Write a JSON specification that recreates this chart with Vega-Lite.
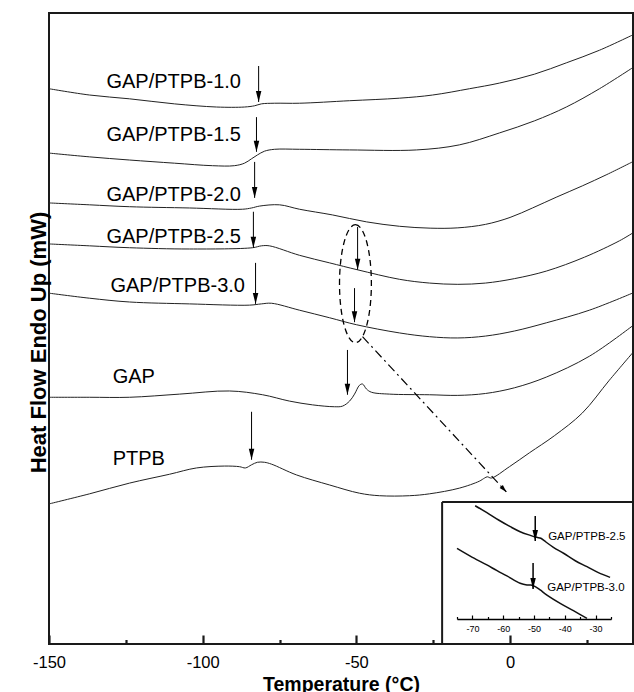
{
  "$schema": "https://vega.github.io/schema/vega-lite/v6.json",
  "width": 584,
  "height": 631,
  "autosize": {"type": "none"},
  "padding": {"left": 49, "top": 13, "right": 1, "bottom": 48},
  "background": "white",
  "config": {
    "font": "Liberation Sans",
    "view": {"stroke": "#1a1a1a", "strokeWidth": 2}
  },
  "datasets": {
    "curves": [
      {"s":"c10","T":-150,"y":88.0},{"s":"c10","T":-136.8,"y":87.0},{"s":"c10","T":-123.8,"y":86.4},{"s":"c10","T":-109.2,"y":85.6},{"s":"c10","T":-95.5,"y":85.1},{"s":"c10","T":-86.4,"y":85.1},{"s":"c10","T":-83.1,"y":85.3},{"s":"c10","T":-80.9,"y":85.6},{"s":"c10","T":-76.6,"y":85.7},{"s":"c10","T":-68.5,"y":85.7},{"s":"c10","T":-52.2,"y":86.1},{"s":"c10","T":-36.0,"y":86.5},{"s":"c10","T":-25.2,"y":87.0},{"s":"c10","T":-13.2,"y":88.0},{"s":"c10","T":-3.4,"y":88.9},{"s":"c10","T":7.9,"y":90.3},{"s":"c10","T":18.3,"y":92.1},{"s":"c10","T":29.1,"y":94.1},{"s":"c10","T":39.8,"y":96.5},
      {"s":"c15","T":-150,"y":77.8},{"s":"c15","T":-136.8,"y":77.2},{"s":"c15","T":-123.8,"y":76.7},{"s":"c15","T":-109.2,"y":76.2},{"s":"c15","T":-96.8,"y":75.8},{"s":"c15","T":-89.7,"y":75.8},{"s":"c15","T":-86.4,"y":76.2},{"s":"c15","T":-84.1,"y":76.9},{"s":"c15","T":-82.2,"y":77.5},{"s":"c15","T":-79.9,"y":78.1},{"s":"c15","T":-76.6,"y":78.4},{"s":"c15","T":-68.5,"y":78.4},{"s":"c15","T":-52.2,"y":78.3},{"s":"c15","T":-30.4,"y":78.3},{"s":"c15","T":-16.5,"y":79.1},{"s":"c15","T":-3.4,"y":81.0},{"s":"c15","T":7.9,"y":82.9},{"s":"c15","T":18.3,"y":85.1},{"s":"c15","T":29.1,"y":88.0},{"s":"c15","T":39.8,"y":91.3},
      {"s":"c20","T":-150,"y":69.9},{"s":"c20","T":-136.8,"y":69.6},{"s":"c20","T":-123.8,"y":69.3},{"s":"c20","T":-104.3,"y":69.1},{"s":"c20","T":-87.1,"y":68.9},{"s":"c20","T":-84.1,"y":69.1},{"s":"c20","T":-81.5,"y":69.4},{"s":"c20","T":-75.0,"y":69.6},{"s":"c20","T":-68.5,"y":68.9},{"s":"c20","T":-57.8,"y":68.0},{"s":"c20","T":-46.7,"y":66.9},{"s":"c20","T":-36.0,"y":66.2},{"s":"c20","T":-26.0,"y":65.9},{"s":"c20","T":-17.0,"y":65.95},{"s":"c20","T":-8.0,"y":66.5},{"s":"c20","T":0.0,"y":67.6},{"s":"c20","T":7.3,"y":69.1},{"s":"c20","T":15.0,"y":70.8},{"s":"c20","T":23.5,"y":72.6},{"s":"c20","T":31.5,"y":74.4},{"s":"c20","T":39.8,"y":76.4},
      {"s":"c25","T":-150,"y":63.4},{"s":"c25","T":-136.8,"y":63.1},{"s":"c25","T":-123.8,"y":62.8},{"s":"c25","T":-104.3,"y":62.6},{"s":"c25","T":-83.8,"y":62.8},{"s":"c25","T":-80.9,"y":63.1},{"s":"c25","T":-78.3,"y":63.1},{"s":"c25","T":-68.5,"y":61.6},{"s":"c25","T":-58.7,"y":60.4},{"s":"c25","T":-49.6,"y":59.3},{"s":"c25","T":-36.0,"y":57.8},{"s":"c25","T":-26.2,"y":57.2},{"s":"c25","T":-17.0,"y":57.0},{"s":"c25","T":-8.0,"y":57.2},{"s":"c25","T":1.4,"y":57.9},{"s":"c25","T":11.8,"y":59.1},{"s":"c25","T":24.2,"y":61.3},{"s":"c25","T":35.6,"y":63.9},{"s":"c25","T":39.8,"y":65.1},
      {"s":"c30","T":-150,"y":55.6},{"s":"c30","T":-136.8,"y":54.8},{"s":"c30","T":-123.8,"y":54.2},{"s":"c30","T":-104.3,"y":53.9},{"s":"c30","T":-84.8,"y":53.7},{"s":"c30","T":-80.9,"y":53.9},{"s":"c30","T":-77.6,"y":54.0},{"s":"c30","T":-68.5,"y":52.9},{"s":"c30","T":-58.7,"y":51.7},{"s":"c30","T":-50.0,"y":50.6},{"s":"c30","T":-36.0,"y":49.3},{"s":"c30","T":-26.2,"y":48.7},{"s":"c30","T":-17.0,"y":48.5},{"s":"c30","T":-8.0,"y":48.8},{"s":"c30","T":1.4,"y":49.6},{"s":"c30","T":11.8,"y":50.9},{"s":"c30","T":25.8,"y":52.9},{"s":"c30","T":39.8,"y":55.6},
      {"s":"gap","T":-150,"y":39.1},{"s":"gap","T":-136.8,"y":39.1},{"s":"gap","T":-123.8,"y":39.1},{"s":"gap","T":-107.5,"y":39.6},{"s":"gap","T":-91.3,"y":40.1},{"s":"gap","T":-80.5,"y":39.5},{"s":"gap","T":-71.8,"y":38.5},{"s":"gap","T":-64.3,"y":37.9},{"s":"gap","T":-57.1,"y":37.6},{"s":"gap","T":-54.5,"y":37.7},{"s":"gap","T":-52.2,"y":38.5},{"s":"gap","T":-50.6,"y":39.6},{"s":"gap","T":-49.0,"y":41.0},{"s":"gap","T":-48.0,"y":41.2},{"s":"gap","T":-46.7,"y":40.4},{"s":"gap","T":-45.1,"y":39.9},{"s":"gap","T":-39.2,"y":39.6},{"s":"gap","T":-26.2,"y":39.5},{"s":"gap","T":-17.0,"y":39.4},{"s":"gap","T":-8.0,"y":39.7},{"s":"gap","T":1.4,"y":40.6},{"s":"gap","T":11.8,"y":42.3},{"s":"gap","T":25.8,"y":45.6},{"s":"gap","T":39.8,"y":50.4},
      {"s":"ptpb","T":-150,"y":22.2},{"s":"ptpb","T":-136.8,"y":23.8},{"s":"ptpb","T":-123.8,"y":25.5},{"s":"ptpb","T":-110.8,"y":26.9},{"s":"ptpb","T":-102.0,"y":27.9},{"s":"ptpb","T":-92.9,"y":28.2},{"s":"ptpb","T":-88.0,"y":28.1},{"s":"ptpb","T":-86.1,"y":27.9},{"s":"ptpb","T":-84.1,"y":28.4},{"s":"ptpb","T":-82.2,"y":28.8},{"s":"ptpb","T":-79.9,"y":28.8},{"s":"ptpb","T":-77.6,"y":28.5},{"s":"ptpb","T":-69.5,"y":26.8},{"s":"ptpb","T":-58.7,"y":25.2},{"s":"ptpb","T":-49.0,"y":23.9},{"s":"ptpb","T":-42.5,"y":23.5},{"s":"ptpb","T":-32.7,"y":23.5},{"s":"ptpb","T":-26.2,"y":23.8},{"s":"ptpb","T":-16.5,"y":24.7},{"s":"ptpb","T":-10.0,"y":25.8},{"s":"ptpb","T":-8.3,"y":26.3},{"s":"ptpb","T":-7.4,"y":26.5},{"s":"ptpb","T":-6.1,"y":26.3},{"s":"ptpb","T":-0.2,"y":28.1},{"s":"ptpb","T":6.3,"y":30.3},{"s":"ptpb","T":14.4,"y":33.0},{"s":"ptpb","T":23.5,"y":36.6},{"s":"ptpb","T":32.3,"y":41.8},{"s":"ptpb","T":39.8,"y":46.1}
    ],
    "arrows": [
      {"T":-81.8,"y":91.6,"y2":85.9},{"T":-82.5,"y":83.5,"y2":78.0},{"T":-83.1,"y":76.4,"y2":70.7},{"T":-83.5,"y":68.5,"y2":62.8},{"T":-82.8,"y":60.4,"y2":53.9},{"T":-49.6,"y":66.1,"y2":59.3},{"T":-50.6,"y":56.4,"y2":51.0},{"T":-52.9,"y":46.6,"y2":39.5},{"T":-84.1,"y":36.8,"y2":29.2}
    ],
    "labels": [
      {"T":-131.3,"y":89.1,"text":"GAP/PTPB-1.0"},{"T":-131.3,"y":80.7,"text":"GAP/PTPB-1.5"},{"T":-131.3,"y":71.2,"text":"GAP/PTPB-2.0"},{"T":-131.3,"y":64.5,"text":"GAP/PTPB-2.5"},{"T":-130.0,"y":56.7,"text":"GAP/PTPB-3.0"},{"T":-129.3,"y":42.3,"text":"GAP"},{"T":-129.3,"y":29.3,"text":"PTPB"}
    ],
    "ellipse": [{"T":-50.3,"y":57.1}],
    "dashdot": [{"T":-48.0,"y":48.7},{"T":-1.2,"y":24.1}],
    "dashhead": [{"T":-1.2,"y":24.1}],
    "frame": [{"T":-22.1,"y":0,"T2":-22.1,"y2":22.5},{"T":-22.1,"y":22.5,"T2":40,"y2":22.5}],
    "inset": [
      {"s":"i25","T":-69.1,"y":96.8},{"s":"i25","T":-65.3,"y":90.9},{"s":"i25","T":-61.5,"y":84.6},{"s":"i25","T":-57.7,"y":78.9},{"s":"i25","T":-54.5,"y":74.6},{"s":"i25","T":-51.2,"y":71.5},{"s":"i25","T":-49.1,"y":69.8},{"s":"i25","T":-47.8,"y":69.0},{"s":"i25","T":-46.7,"y":66.9},{"s":"i25","T":-43.7,"y":61.3},{"s":"i25","T":-40.4,"y":56.2},{"s":"i25","T":-36.6,"y":49.8},{"s":"i25","T":-32.8,"y":44.7},{"s":"i25","T":-29.1,"y":39.6},{"s":"i25","T":-25.3,"y":35.6},
      {"s":"i30","T":-75.0,"y":60.4},{"s":"i30","T":-70.7,"y":53.8},{"s":"i30","T":-65.3,"y":46.2},{"s":"i30","T":-62.0,"y":41.3},{"s":"i30","T":-58.8,"y":36.8},{"s":"i30","T":-54.5,"y":30.5},{"s":"i30","T":-52.3,"y":29.1},{"s":"i30","T":-51.0,"y":29.1},{"s":"i30","T":-49.6,"y":27.6},{"s":"i30","T":-48.0,"y":24.8},{"s":"i30","T":-45.8,"y":20.5},{"s":"i30","T":-41.5,"y":13.4},{"s":"i30","T":-37.2,"y":7.1},{"s":"i30","T":-32.8,"y":0.6}
    ],
    "insetArrows": [{"T":-49.6,"y":88.0,"y2":66.7},{"T":-50.3,"y":47.9,"y2":25.6}],
    "insetLabels": [{"T":-45.4,"y":70.1,"text":"GAP/PTPB-2.5"},{"T":-45.7,"y":26.5,"text":"GAP/PTPB-3.0"}]
  },
  "layer": [
    {
      "layer": [
        {
          "data": {"name": "curves"},
          "mark": {"type": "line", "color": "#222222", "strokeWidth": 1, "interpolate": "catmull-rom"},
          "encoding": {
            "x": {
              "field": "T", "type": "quantitative",
              "scale": {"domain": [-150, 40], "nice": false, "zero": false},
              "axis": {
                "values": [-150, -125, -100, -75, -50, -25, 0, 25],
                "domain": false, "grid": false,
                "tickColor": "#1a1a1a", "tickWidth": 2.2,
                "tickSize": {"condition": {"test": "datum.value % 50 === 0", "value": -9}, "value": -4.5},
                "labelExpr": "datum.value % 50 === 0 ? '' + datum.value : ''",
                "labelFontSize": 16.5, "labelColor": "black", "labelFlush": false,
                "labelBaseline": "alphabetic", "labelPadding": 32, "labelOverlap": false,
                "title": "Temperature (°C)", "titleFontSize": 19.5, "titleFontWeight": "bold",
                "titleColor": "black", "titleBaseline": "alphabetic", "titleX": 292, "titleY": 46, "titleAlign": "center"
              }
            },
            "y": {
              "field": "y", "type": "quantitative",
              "scale": {"domain": [0, 100], "nice": false, "zero": false},
              "axis": {
                "labels": false, "ticks": false, "domain": false, "grid": false,
                "title": "Heat Flow Endo Up (mW)", "titleFontSize": 22, "titleFontWeight": "bold",
                "titleColor": "black", "titleBaseline": "alphabetic", "titleX": -4, "titleY": 329, "titleAlign": "center"
              }
            },
            "detail": {"field": "s"}
          }
        },
        {
          "data": {"name": "arrows"},
          "mark": {"type": "rule", "color": "black", "strokeWidth": 1},
          "encoding": {
            "x": {"field": "T", "type": "quantitative"},
            "y": {"field": "y", "type": "quantitative"},
            "y2": {"field": "y2"}
          }
        },
        {
          "data": {"name": "arrows"},
          "mark": {"type": "point", "shape": "M0,0L-0.5,-2L0.5,-2Z", "filled": true, "color": "black", "opacity": 1, "size": 121, "strokeWidth": 0},
          "encoding": {
            "x": {"field": "T", "type": "quantitative"},
            "y": {"field": "y2", "type": "quantitative"}
          }
        },
        {
          "data": {"name": "labels"},
          "mark": {"type": "text", "align": "left", "baseline": "middle", "fontSize": 20, "color": "black"},
          "encoding": {
            "x": {"field": "T", "type": "quantitative"},
            "y": {"field": "y", "type": "quantitative"},
            "text": {"field": "text"}
          }
        },
        {
          "data": {"name": "ellipse"},
          "mark": {"type": "point", "shape": "M0,-1C0.149,-1 0.27,-0.552 0.27,0C0.27,0.552 0.149,1 0,1C-0.149,1 -0.27,0.552 -0.27,0C-0.27,-0.552 -0.149,-1 0,-1Z", "filled": false, "color": "black", "opacity": 1, "size": 13924, "strokeWidth": 1.3, "strokeDash": [6, 4]},
          "encoding": {
            "x": {"field": "T", "type": "quantitative"},
            "y": {"field": "y", "type": "quantitative"}
          }
        },
        {
          "data": {"name": "dashdot"},
          "mark": {"type": "line", "color": "black", "strokeWidth": 1.2, "strokeDash": [9, 4, 2, 4]},
          "encoding": {
            "x": {"field": "T", "type": "quantitative"},
            "y": {"field": "y", "type": "quantitative"}
          }
        },
        {
          "data": {"name": "dashhead"},
          "mark": {"type": "point", "shape": "M0,0L-0.6,-2L0.6,-2Z", "filled": true, "color": "black", "opacity": 1, "size": 56, "strokeWidth": 0, "angle": 317},
          "encoding": {
            "x": {"field": "T", "type": "quantitative"},
            "y": {"field": "y", "type": "quantitative"}
          }
        },
        {
          "data": {"name": "frame"},
          "mark": {"type": "rule", "color": "#1a1a1a", "strokeWidth": 2},
          "encoding": {
            "x": {"field": "T", "type": "quantitative"},
            "x2": {"field": "T2"},
            "y": {"field": "y", "type": "quantitative"},
            "y2": {"field": "y2"}
          }
        }
      ]
    },
    {
      "layer": [
        {
          "data": {"name": "inset"},
          "mark": {"type": "line", "color": "#111111", "strokeWidth": 1.5, "interpolate": "catmull-rom"},
          "encoding": {
            "x": {
              "field": "T", "type": "quantitative",
              "scale": {"domain": [-75, -25], "range": [408, 562], "nice": false, "zero": false},
              "axis": {
                "orient": "bottom", "offset": -25,
                "values": [-75, -70, -65, -60, -55, -50, -45, -40, -35, -30, -25],
                "grid": false, "domainColor": "black", "domainWidth": 1.5,
                "tickColor": "black", "tickWidth": 1.2,
                "tickSize": {"condition": {"test": "datum.value % 10 === 0", "value": -4}, "value": -2.5},
                "labelExpr": "datum.value % 10 === 0 ? '' + datum.value : ''",
                "labelFontSize": 9, "labelColor": "black", "labelFlush": false, "labelOverlap": false,
                "labelBaseline": "alphabetic", "labelPadding": 16,
                "title": null
              }
            },
            "y": {
              "field": "y", "type": "quantitative",
              "scale": {"domain": [0, 100], "range": [606, 489], "nice": false, "zero": false},
              "axis": null
            },
            "detail": {"field": "s"}
          }
        },
        {
          "data": {"name": "insetArrows"},
          "mark": {"type": "rule", "color": "black", "strokeWidth": 1.5},
          "encoding": {
            "x": {"field": "T", "type": "quantitative"},
            "y": {"field": "y", "type": "quantitative"},
            "y2": {"field": "y2"}
          }
        },
        {
          "data": {"name": "insetArrows"},
          "mark": {"type": "point", "shape": "M0,0L-0.5,-2L0.5,-2Z", "filled": true, "color": "black", "opacity": 1, "size": 121, "strokeWidth": 0},
          "encoding": {
            "x": {"field": "T", "type": "quantitative"},
            "y": {"field": "y2", "type": "quantitative"}
          }
        },
        {
          "data": {"name": "insetLabels"},
          "mark": {"type": "text", "align": "left", "baseline": "middle", "fontSize": 11.5, "color": "black"},
          "encoding": {
            "x": {"field": "T", "type": "quantitative"},
            "y": {"field": "y", "type": "quantitative"},
            "text": {"field": "text"}
          }
        }
      ]
    }
  ],
  "resolve": {
    "scale": {"x": "independent", "y": "independent"},
    "axis": {"x": "independent", "y": "independent"}
  }
}
